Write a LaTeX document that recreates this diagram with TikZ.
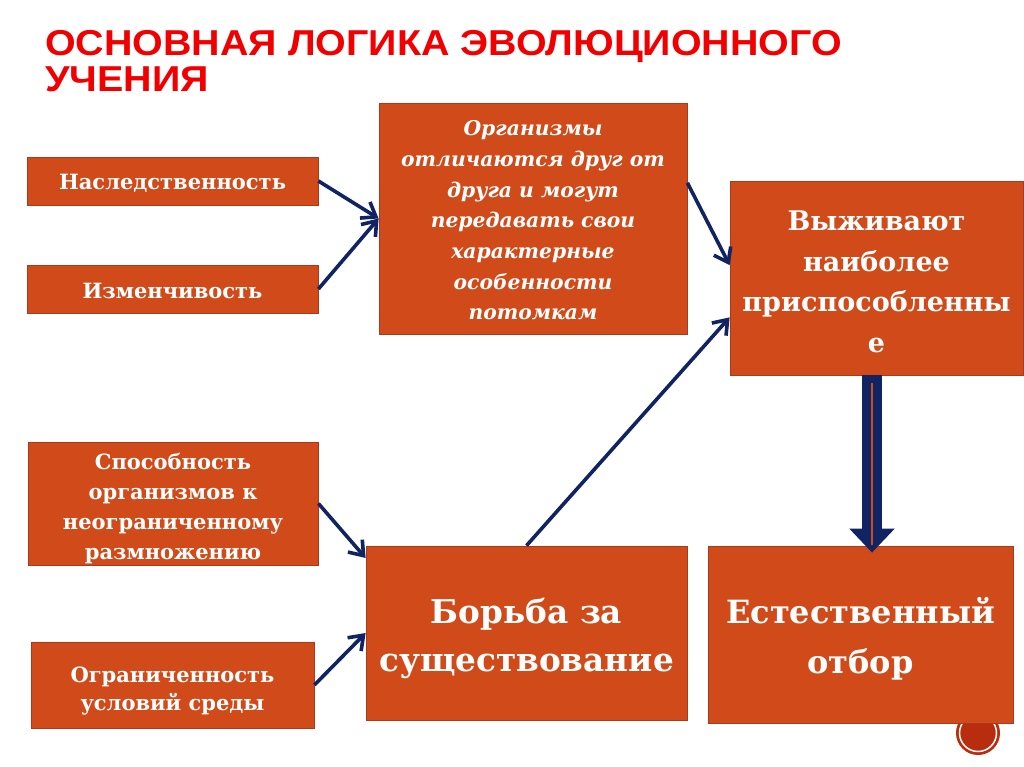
\documentclass[tikz,border=0pt]{standalone}
\usepackage{fontspec}
\setmainfont{DejaVu Serif}
\newfontfamily\titlefont[FakeStretch=1.095]{Liberation Sans Bold}
\usetikzlibrary{arrows.meta,calc}
\definecolor{boxfill}{RGB}{208,74,26}
\definecolor{boxline}{RGB}{170,58,28}
\definecolor{navy}{RGB}{16,36,100}
\definecolor{titlered}{RGB}{240,0,0}
\definecolor{numred}{RGB}{185,45,15}
\tikzset{
  box/.style={rectangle, fill=boxfill, draw=boxline, line width=0.8pt, inner sep=0pt},
  boxtext/.style={text=white, align=center, inner sep=0pt},
  link/.style={draw=navy, line width=3.6pt, -{Straight Barb[length=13pt,width=19pt,line width=3.6pt]}},
}
\newcommand{\fs}[2]{\fontsize{#1}{#2}\selectfont}
\begin{document}
\begin{tikzpicture}[x=1pt,y=-1pt]
\useasboundingbox (0,0) rectangle (1024,767);
\fill[white] (0,0) rectangle (1024,767);
% slide number badge
\fill[numred] (978,733) circle (22);
\draw[white, line width=1.5pt] (978,733) circle (18.5);
% title
\node[anchor=base west, text=titlered, font=\titlefont\fs{36}{36}, inner sep=0pt] (t1) at (45,56) {ОСНОВНАЯ ЛОГИКА ЭВОЛЮЦИОННОГО};
\node[anchor=base west, text=titlered, font=\titlefont\fs{36}{36}, inner sep=0pt] (t2) at (45,92) {УЧЕНИЯ};
% boxes
\node[box, minimum width=291, minimum height=48] (her) at (172.5,181) {};
\node[box, minimum width=291, minimum height=48] (var) at (172.5,289) {};
\node[box, minimum width=308, minimum height=231] (org) at (533,218.5) {};
\node[box, minimum width=293, minimum height=194] (surv) at (876.5,278) {};
\node[box, minimum width=290, minimum height=123] (abil) at (173,503.5) {};
\node[box, minimum width=283, minimum height=86] (lim) at (172.5,685) {};
\node[box, minimum width=321, minimum height=174] (fight) at (526.5,633) {};
\node[box, minimum width=305, minimum height=177] (sel) at (860.5,634.5) {};
% texts
\node[boxtext, font=\bfseries\fs{21}{30}] (herT) at ($(her)+(0,2)$) {Наследственность};
\node[boxtext, font=\bfseries\fs{21}{30}] (varT) at ($(var)+(0,2)$) {Изменчивость};
\node[boxtext, font=\bfseries\itshape\fs{20.3}{30.7}] (orgT) at ($(org)+(0,2)$) {Организмы\\отличаются друг от\\друга и могут\\передавать свои\\характерные\\особенности\\потомкам};
\node[boxtext, font=\bfseries\fs{27}{40.5}] (survT) at ($(surv)+(0,4)$) {Выживают\\наиболее\\приспособленны\\е};
\node[boxtext, font=\bfseries\fs{21}{29.7}] (abilT) at ($(abil)+(0,5)$) {Способность\\организмов к\\неограниченному\\размножению};
\node[boxtext, font=\bfseries\fs{21}{28.5}] (limT) at ($(lim)+(0,6)$) {Ограниченность\\условий среды};
\node[boxtext, font=\bfseries\fs{32.7}{48}] (fightT) at ($(fight)+(0,5)$) {Борьба за\\существование};
\node[boxtext, font=\bfseries\fs{32}{50}] (selT) at ($(sel)+(0,4)$) {Естественный\\отбор};
% connectors
\draw[link] (her.east) -- (org.west);
\draw[link] (var.east) -- (org.west);
\draw[link] (org.13) -- (surv.175);
\draw[link] (fight.north) -- (surv.195);
\draw[link] (abil.east) -- (fight.155);
\draw[link] (lim.east) -- (fight.west);
% big arrow
\coordinate (bs) at (surv.south -| 872,0);
\coordinate (be) at ($(sel.north -| 872,0)+(0,7)$);
\draw[navy, line width=20pt, -{Triangle[length=24pt,width=44pt]}] (bs) -- (be);
\draw[boxfill, line width=2pt] ($(bs)+(0,8)$) -- ($(be)+(0,-8)$);
\end{tikzpicture}
\end{document}
